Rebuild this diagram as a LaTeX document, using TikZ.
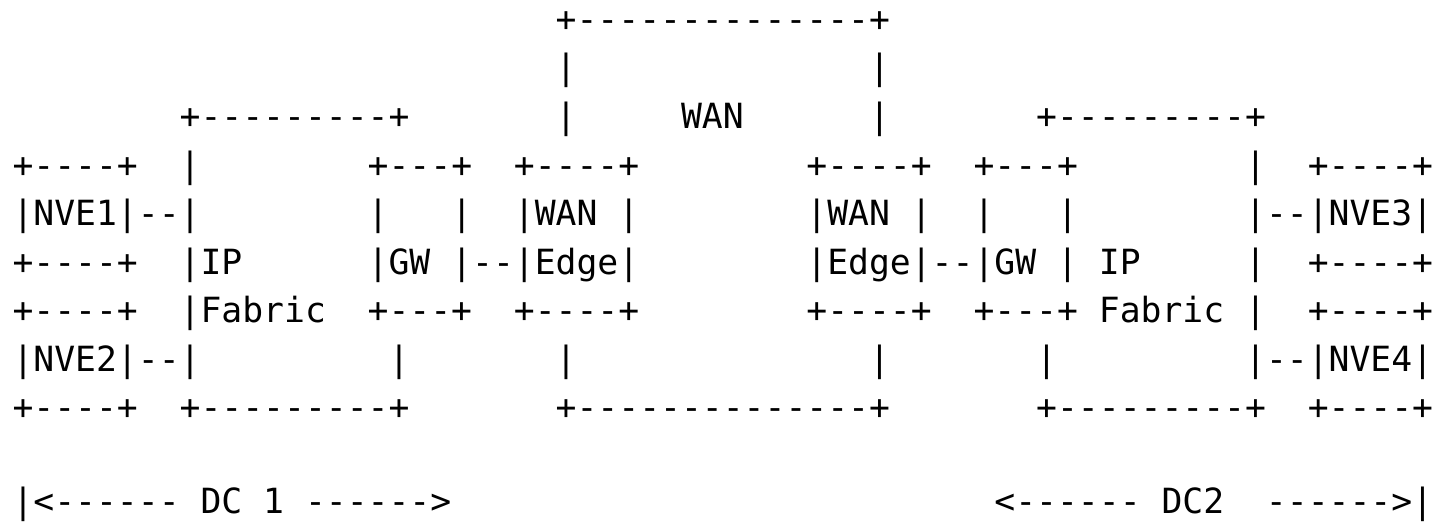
\documentclass[tikz,border=0pt]{standalone}
\usepackage{fontspec}
\setmonofont{DejaVu Sans Mono}
\begin{document}
\begin{tikzpicture}[x=1pt,y=1pt,
  asciirow/.style={anchor=base west, inner sep=0pt, outer sep=0pt,
    font=\ttfamily\fontsize{34.7}{48.55}\selectfont, text=black}]
\fill[white] (0,0) rectangle (1441,522);
\useasboundingbox (0,0) rectangle (1441,522);
\node[asciirow] (r0) at (12.55,490.6)  {~~~~~~~~~~~~~~~~~~~~~~~~~~+--------------+};
\node[asciirow] (r1) at (12.55,442.05) {~~~~~~~~~~~~~~~~~~~~~~~~~~|~~~~~~~~~~~~~~|};
\node[asciirow] (r2) at (12.55,393.5)  {~~~~~~~~+---------+~~~~~~~|~~~~~WAN~~~~~~|~~~~~~~+---------+};
\node[asciirow] (r3) at (12.55,344.95) {+----+~~|~~~~~~~~+---+~~+----+~~~~~~~~+----+~~+---+~~~~~~~~|~~+----+};
\node[asciirow] (r4) at (12.55,296.4)  {|NVE1|--|~~~~~~~~|~~~|~~|WAN~|~~~~~~~~|WAN~|~~|~~~|~~~~~~~~|--|NVE3|};
\node[asciirow] (r5) at (12.55,247.85) {+----+~~|IP~~~~~~|GW~|--|Edge|~~~~~~~~|Edge|--|GW~|~IP~~~~~|~~+----+};
\node[asciirow] (r6) at (12.55,199.3)  {+----+~~|Fabric~~+---+~~+----+~~~~~~~~+----+~~+---+~Fabric~|~~+----+};
\node[asciirow] (r7) at (12.55,150.75) {|NVE2|--|~~~~~~~~~|~~~~~~~|~~~~~~~~~~~~~~|~~~~~~~|~~~~~~~~~|--|NVE4|};
\node[asciirow] (r8) at (12.55,102.2)  {+----+~~+---------+~~~~~~~+--------------+~~~~~~~+---------+~~+----+};
\node[asciirow] (r10) at (12.55,8.6)   {|<------~DC~1~------>~~~~~~~~~~~~~~~~~~~~~~~~~~<------~DC2~~------>|};
\end{tikzpicture}
\end{document}
